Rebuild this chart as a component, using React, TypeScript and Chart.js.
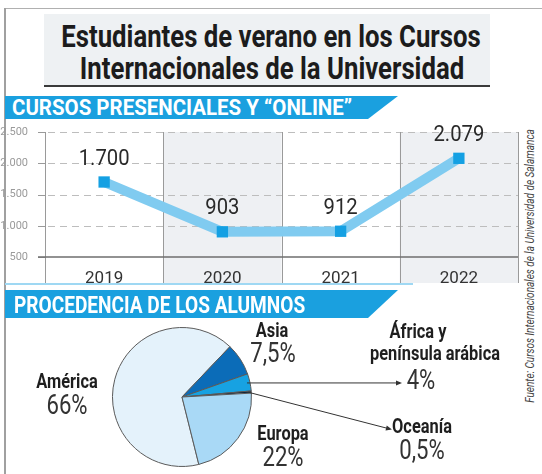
import React, { useEffect, useRef } from "react";
import { Chart, registerables } from "chart.js";
Chart.register(...registerables);

const FONT = 'Roboto, "Liberation Sans", sans-serif';

const years = ["2019", "2020", "2021", "2022"];
const students = [1700, 903, 912, 2079];
const studentLabels = ["1.700", "903", "912", "2.079"];
const yMin = 500;
const yMax = 2500;
const yStep = 500;

const regions = ["América", "Asia", "África y península arábica", "Oceanía", "Europa"];
const shares = [66, 7.5, 4, 0.5, 22];
const shareLabels = ["66%", "7,5%", "4%", "0,5%", "22%"];
const regionColors = ["#e4f2fb", "#0b6cb8", "#17a2e2", "#0f2238", "#a9d9f6"];

function fmt(v: number) {
  return v >= 1000 ? `${Math.floor(v / 1000)}.${String(v % 1000).padStart(3, "0")}` : String(v);
}

function LineChart() {
  const ref = useRef<HTMLCanvasElement>(null);
  useEffect(() => {
    const deco = {
      id: "deco",
      beforeDraw(chart: any) {
        const { ctx, chartArea } = chart;
        const x = chart.scales.x;
        const half = (x.getPixelForValue(1) - x.getPixelForValue(0)) / 2;
        ctx.save();
        ctx.fillStyle = "#eef0f3";
        years.forEach((_, i) => {
          if (i % 2 === 1) {
            const c = x.getPixelForValue(i);
            ctx.fillRect(c - half, chartArea.top, 2 * half, chart.height - 2 - chartArea.top);
          }
        });
        ctx.restore();
      },
      beforeDatasetsDraw(chart: any) {
        const { ctx, chartArea } = chart;
        const x = chart.scales.x;
        const y = chart.scales.y;
        const half = (x.getPixelForValue(1) - x.getPixelForValue(0)) / 2;
        ctx.save();
        ctx.lineWidth = 1;
        y.ticks.forEach((t: any) => {
          const py = Math.round(y.getPixelForValue(t.value)) + 0.5;
          ctx.strokeStyle = "#9a9a9a";
          ctx.setLineDash([]);
          ctx.beginPath();
          ctx.moveTo(chartArea.left - 7, py);
          ctx.lineTo(chartArea.left, py);
          ctx.stroke();
          if (t.value === yMin) return;
          ctx.strokeStyle = "#bdbdbd";
          ctx.setLineDash([7, 5]);
          ctx.beginPath();
          ctx.moveTo(chartArea.left + 3, py);
          ctx.lineTo(chartArea.right, py);
          ctx.stroke();
        });
        ctx.setLineDash([]);
        ctx.strokeStyle = "#9a9a9a";
        for (let i = 0; i <= years.length; i++) {
          const px = Math.round(x.getPixelForValue(0) - half + 2 * half * i) + 0.5;
          ctx.beginPath();
          ctx.moveTo(px, chartArea.top);
          ctx.lineTo(px, chart.height - 2);
          ctx.stroke();
        }
        ctx.strokeStyle = "#6e6e6e";
        ctx.lineWidth = 1.5;
        ctx.beginPath();
        ctx.moveTo(chartArea.left - 7, chartArea.bottom);
        ctx.lineTo(chartArea.right, chartArea.bottom);
        ctx.stroke();
        ctx.restore();
      },
      afterDatasetsDraw(chart: any) {
        const { ctx } = chart;
        const meta = chart.getDatasetMeta(0);
        ctx.save();
        ctx.font = `22px ${FONT}`;
        ctx.fillStyle = "#2a2a2a";
        ctx.textAlign = "center";
        ctx.textBaseline = "middle";
        meta.data.forEach((pt: any, i: number) => {
          ctx.save();
          ctx.translate(pt.x, pt.y - 23);
          ctx.scale(0.92, 1);
          ctx.fillText(studentLabels[i], 0, 0);
          ctx.restore();
        });
        ctx.restore();
      },
    };
    const chart = new Chart(ref.current!, {
      type: "line",
      data: {
        labels: years,
        datasets: [
          {
            data: students,
            borderColor: "#80cbf0",
            borderWidth: 10,
            borderCapStyle: "butt",
            borderJoinStyle: "miter",
            tension: 0,
            pointStyle: "rect",
            pointRadius: 8,
            pointBorderWidth: 0,
            pointBackgroundColor: "#14a0e3",
          },
        ],
      },
      options: {
        animation: false,
        responsive: false,
        devicePixelRatio: 1,
        events: [],
        layout: { autoPadding: false, padding: { top: 12, right: 2, left: 0, bottom: 0 } },
        plugins: { legend: { display: false }, tooltip: { enabled: false } },
        scales: {
          x: {
            offset: true,
            grid: { display: false },
            border: { display: false },
            ticks: { font: { family: FONT, size: 17 }, color: "#333", padding: 4 },
            afterFit: (s: any) => {
              s.height = 28;
              s.paddingLeft = 0;
              s.paddingRight = 0;
            },
          },
          y: {
            min: yMin,
            max: yMax,
            border: { display: false },
            grid: { display: false },
            ticks: {
              stepSize: yStep,
              font: { family: FONT, size: 11 },
              color: "#9a9a9a",
              padding: 9,
              callback: (v: any) => fmt(Number(v)),
            },
            afterFit: (s: any) => {
              s.width = 45;
              s.paddingTop = 0;
              s.paddingBottom = 0;
            },
          },
        },
      },
      plugins: [deco],
    } as any);
    return () => chart.destroy();
  }, []);
  return (
    <canvas
      ref={ref}
      width={520}
      height={165}
      style={{ position: "absolute", left: 0, top: 120, width: 520, height: 165 }}
    />
  );
}

function PieChart() {
  const ref = useRef<HTMLCanvasElement>(null);
  useEffect(() => {
    const arrows = {
      id: "arrows",
      afterDraw(chart: any) {
        const { ctx } = chart;
        const meta = chart.getDatasetMeta(0);
        const ends: Record<number, [number, number | null]> = { 2: [400, null], 3: [390, 107] };
        ctx.save();
        ctx.strokeStyle = "#333";
        ctx.fillStyle = "#333";
        ctx.lineWidth = 1;
        Object.keys(ends).forEach((k) => {
          const i = Number(k);
          const a = meta.data[i];
          const mid = (a.startAngle + a.endAngle) / 2;
          const r = a.outerRadius - 3;
          const sx = a.x + r * Math.cos(mid);
          const sy = a.y + r * Math.sin(mid);
          const ex = ends[i][0];
          const ey = ends[i][1] === null ? sy : (ends[i][1] as number);
          ctx.beginPath();
          ctx.moveTo(sx, sy);
          ctx.lineTo(ex, ey);
          ctx.stroke();
          const ang = Math.atan2(ey - sy, ex - sx);
          const c = Math.cos(ang);
          const s = Math.sin(ang);
          ctx.beginPath();
          ctx.moveTo(ex + 2 * c, ey + 2 * s);
          ctx.lineTo(ex - 4 * c + 2.5 * s, ey - 4 * s - 2.5 * c);
          ctx.lineTo(ex - 4 * c - 2.5 * s, ey - 4 * s + 2.5 * c);
          ctx.closePath();
          ctx.fill();
        });
        ctx.restore();
      },
    };
    const chart = new Chart(ref.current!, {
      type: "pie",
      data: {
        labels: regions,
        datasets: [
          {
            data: shares,
            backgroundColor: regionColors,
            borderColor: "#5a5a5a",
            borderWidth: 1,
          },
        ],
      },
      options: {
        animation: false,
        responsive: false,
        devicePixelRatio: 1,
        events: [],
        rotation: 166,
        layout: { padding: { left: 112, right: 268, top: 5, bottom: 7 } },
        plugins: { legend: { display: false }, tooltip: { enabled: false } },
      },
      plugins: [arrows],
    } as any);
    return () => chart.destroy();
  }, []);
  return (
    <canvas
      ref={ref}
      width={520}
      height={152}
      style={{ position: "absolute", left: 0, top: 322, width: 520, height: 152 }}
    />
  );
}

function T(props: {
  x: number;
  y: number;
  text: string;
  size: number;
  bold?: boolean;
  italic?: boolean;
  sx?: number;
  color?: string;
  left?: boolean;
  rotate?: number;
}) {
  const sx = props.sx ?? 0.82;
  const tr = props.left
    ? `translate(0, -50%) scaleX(${sx})`
    : `translate(-50%, -50%)${props.rotate ? ` rotate(${props.rotate}deg)` : ""} scaleX(${sx})`;
  return (
    <div
      style={{
        position: "absolute",
        left: props.x,
        top: props.y,
        transform: tr,
        transformOrigin: props.left ? "left center" : "center center",
        whiteSpace: "nowrap",
        fontFamily: FONT,
        fontSize: props.size,
        fontWeight: props.bold ? 700 : 400,
        fontStyle: props.italic ? "italic" : "normal",
        color: props.color || (props.bold ? "#1e1e1e" : "#333"),
        lineHeight: 1,
      }}
    >
      {props.text}
    </div>
  );
}

function Band(props: { top: number; height: number }) {
  return (
    <div
      style={{
        position: "absolute",
        left: 5,
        top: props.top,
        width: 393,
        height: props.height,
        background: "#1aa0df",
        clipPath: "polygon(0 0, 100% 0, calc(100% - 30px) 100%, 0 100%)",
      }}
    />
  );
}

export default function App() {
  return (
    <div style={{ position: "fixed", left: 0, top: 0, width: 542, height: 474, background: "#fff", overflow: "hidden" }}>
      <div style={{ position: "absolute", left: 5, top: 8, width: 537, height: 1, background: "#b0b0b0" }} />
      <div style={{ position: "absolute", left: 4, top: 8, width: 2, height: 466, background: "#a0a0a0" }} />
      <div
        style={{
          position: "absolute",
          left: 44,
          top: 14,
          width: 446,
          height: 71,
          background: "#eef1f3",
          borderBottom: "2px solid #3a3a3a",
        }}
      />
      <T x={271} y={36} text="Estudiantes de verano en los Cursos" size={31} bold sx={0.83} color="#1c1c1c" />
      <T x={272} y={68} text="Internacionales de la Universidad" size={31} bold sx={0.83} color="#1c1c1c" />
      <Band top={96} height={23} />
      <T x={12} y={108} text="CURSOS PRESENCIALES Y “ONLINE”" size={22} bold left sx={0.93} color="#fff" />
      <LineChart />
      <div style={{ position: "absolute", left: 5, top: 283, width: 408, height: 2, background: "#9fd8f3" }} />
      <Band top={290} height={28} />
      <T x={14} y={305} text="PROCEDENCIA DE LOS ALUMNOS" size={23} bold left sx={0.83} color="#fff" />
      <PieChart />
      <T x={67} y={381} text="América" size={20} bold />
      <T x={67} y={405} text="66%" size={27} />
      <T x={272} y={330} text="Asia" size={20} bold />
      <T x={273} y={353} text="7,5%" size={27} />
      <T x={418} y={331} text="África y" size={20} bold />
      <T x={435} y={353} text="península arábica" size={20} bold />
      <T x={421} y={380} text="4%" size={27} />
      <T x={422} y={426} text="Oceanía" size={20} bold />
      <T x={422} y={450} text="0,5%" size={27} />
      <T x={283} y={433} text="Europa" size={20} bold />
      <T x={283} y={457} text="22%" size={27} />
      <T
        x={530}
        y={266}
        text="Fuente: Cursos Internacionales de la Universidad de Salamanca"
        size={12.5}
        italic
        rotate={-90}
        sx={0.8}
        color="#444"
      />
    </div>
  );
}
